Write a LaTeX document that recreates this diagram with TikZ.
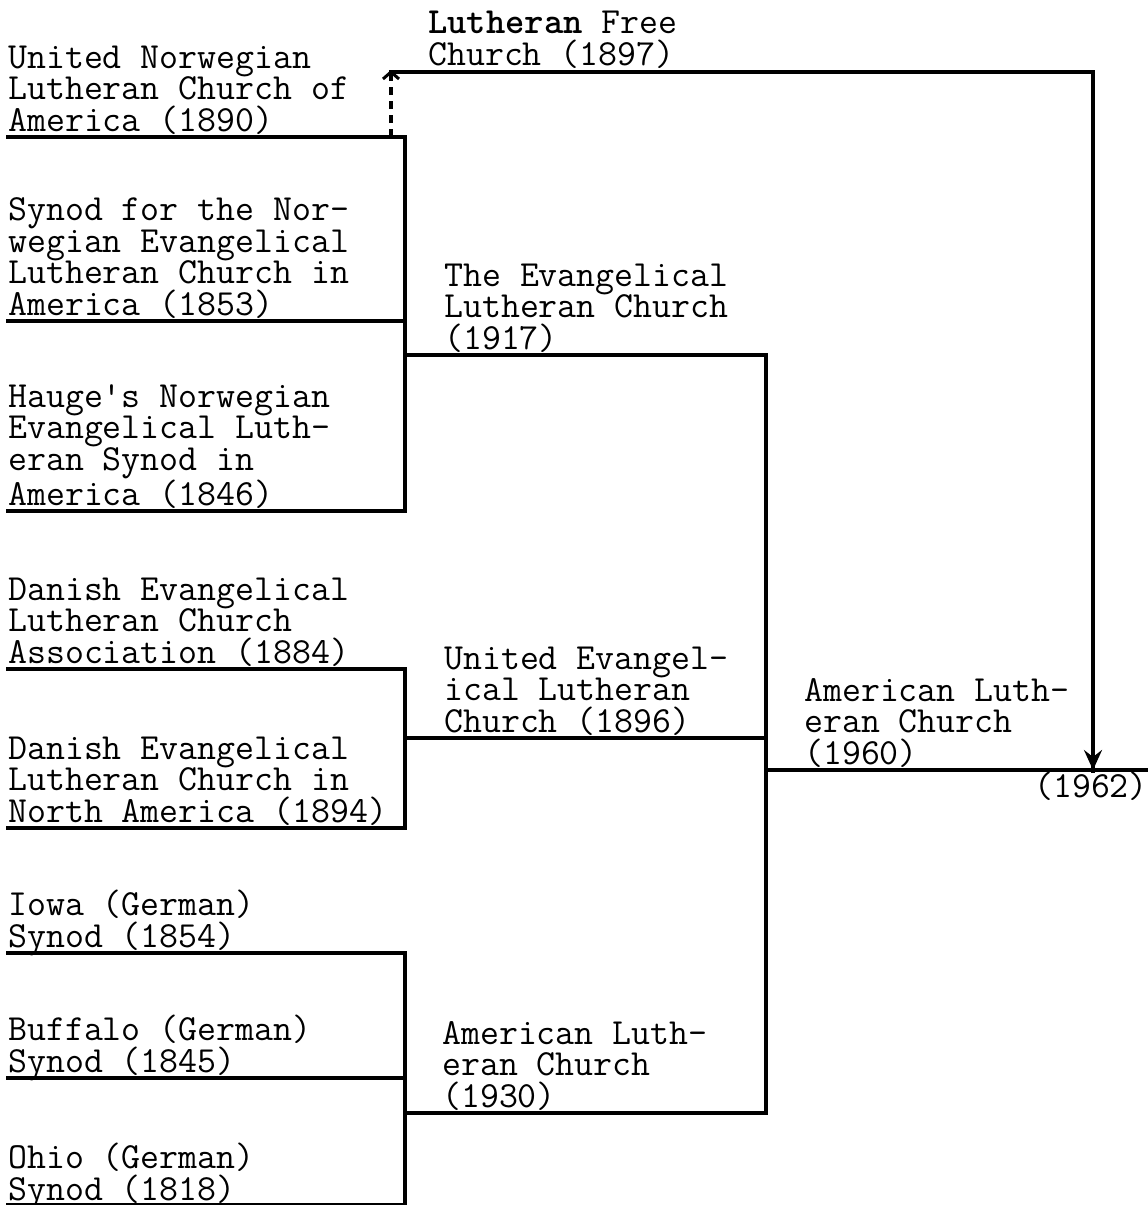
\documentclass[tikz,border=0pt]{standalone}
\usetikzlibrary{arrows.meta}
\begin{document}
\begin{tikzpicture}[x=1pt,y=-1pt,
  lbl/.style={anchor=base west,inner sep=0pt,align=left,
    font=\fontsize{36.8}{31.5}\selectfont\ttfamily},
  wire/.style={line width=3.2pt,line cap=rect},
  dashwire/.style={line width=3.2pt,dash pattern=on 8pt off 6pt}]
\useasboundingbox (0,0) rectangle (1148,1205);
% texts (anchored at last-line baseline)
\node[lbl] (unlc) at (8,131) {United Norwegian\\Lutheran Church of\\America (1890)};
\node[lbl] (lfc) at (428,65) {\textbf{Lutheran} Free\\Church (1897)};
\node[lbl] (snor) at (8,315) {Synod for the Nor-\\wegian Evangelical\\Lutheran Church in\\America (1853)};
\node[lbl] (hauge) at (8,505) {Hauge's Norwegian\\Evangelical Luth-\\eran Synod in\\America (1846)};
\node[lbl] (dassoc) at (8,663) {Danish Evangelical\\Lutheran Church\\Association (1884)};
\node[lbl] (dna) at (8,822) {Danish Evangelical\\Lutheran Church in\\North America (1894)};
\node[lbl] (iowa) at (8,947) {Iowa (German)\\Synod (1854)};
\node[lbl] (buff) at (8,1072) {Buffalo (German)\\Synod (1845)};
\node[lbl] (ohio) at (8,1200) {Ohio (German)\\Synod (1818)};
\node[lbl] (elc) at (444,349) {The Evangelical\\Lutheran Church\\(1917)};
\node[lbl] (uelc) at (444,732) {United Evangel-\\ical Lutheran\\Church (1896)};
\node[lbl] (alc30) at (442,1107) {American Luth-\\eran Church\\(1930)};
\node[lbl] (alc60) at (804,764) {American Luth-\\eran Church\\(1960)};
\node[lbl] (y62) at (1034,797) {(1962)};
% coordinates
\coordinate (a1) at (8,137);   \coordinate (a2) at (405,137);
\coordinate (b1) at (8,321);   \coordinate (b2) at (405,321);
\coordinate (c1) at (8,511);   \coordinate (c2) at (405,511);
\coordinate (d1) at (8,669);   \coordinate (d2) at (405,669);
\coordinate (e1) at (8,828);   \coordinate (e2) at (405,828);
\coordinate (f1) at (8,953);   \coordinate (f2) at (405,953);
\coordinate (g1) at (8,1078);  \coordinate (g2) at (405,1078);
\coordinate (h1) at (8,1205);  \coordinate (h2) at (405,1205);
\coordinate (elcL) at (405,355);  \coordinate (elcR) at (766,355);
\coordinate (uelcL) at (405,738); \coordinate (uelcR) at (766,738);
\coordinate (alcL) at (405,1113); \coordinate (alcR) at (766,1113);
\coordinate (m60L) at (766,770);  \coordinate (m60R) at (1148,770);
\coordinate (dashB) at (391,137); \coordinate (dashT) at (391,72);
\coordinate (lfcR) at (1093,72);  \coordinate (lfcD) at (1093,770);
% lines
\draw[wire] (a1) -- (a2) -- (c2);
\draw[wire] (b1) -- (b2);
\draw[wire] (c1) -- (c2);
\draw[wire] (elcL) -- (elcR) -- (alcR);
\draw[wire] (d1) -- (d2) -- (e2);
\draw[wire] (e1) -- (e2);
\draw[wire] (uelcL) -- (uelcR);
\draw[wire] (f1) -- (f2) -- (h2);
\draw[wire] (g1) -- (g2);
\draw[wire] (h1) -- (h2);
\draw[wire] (alcL) -- (alcR);
\draw[wire] (m60L) -- (m60R);
\draw[dashwire,-{Straight Barb[length=7pt,width=16pt,line width=3pt]}] (dashB) -- ([yshift=2pt]dashT);
\draw[wire] (dashT) -- (lfcR) -- ([yshift=-1pt]lfcD);
\draw[line width=3.2pt,-{Stealth[length=20pt,width=18pt,inset=7pt]}] (1093,700) -- (lfcD);
\end{tikzpicture}
\end{document}
